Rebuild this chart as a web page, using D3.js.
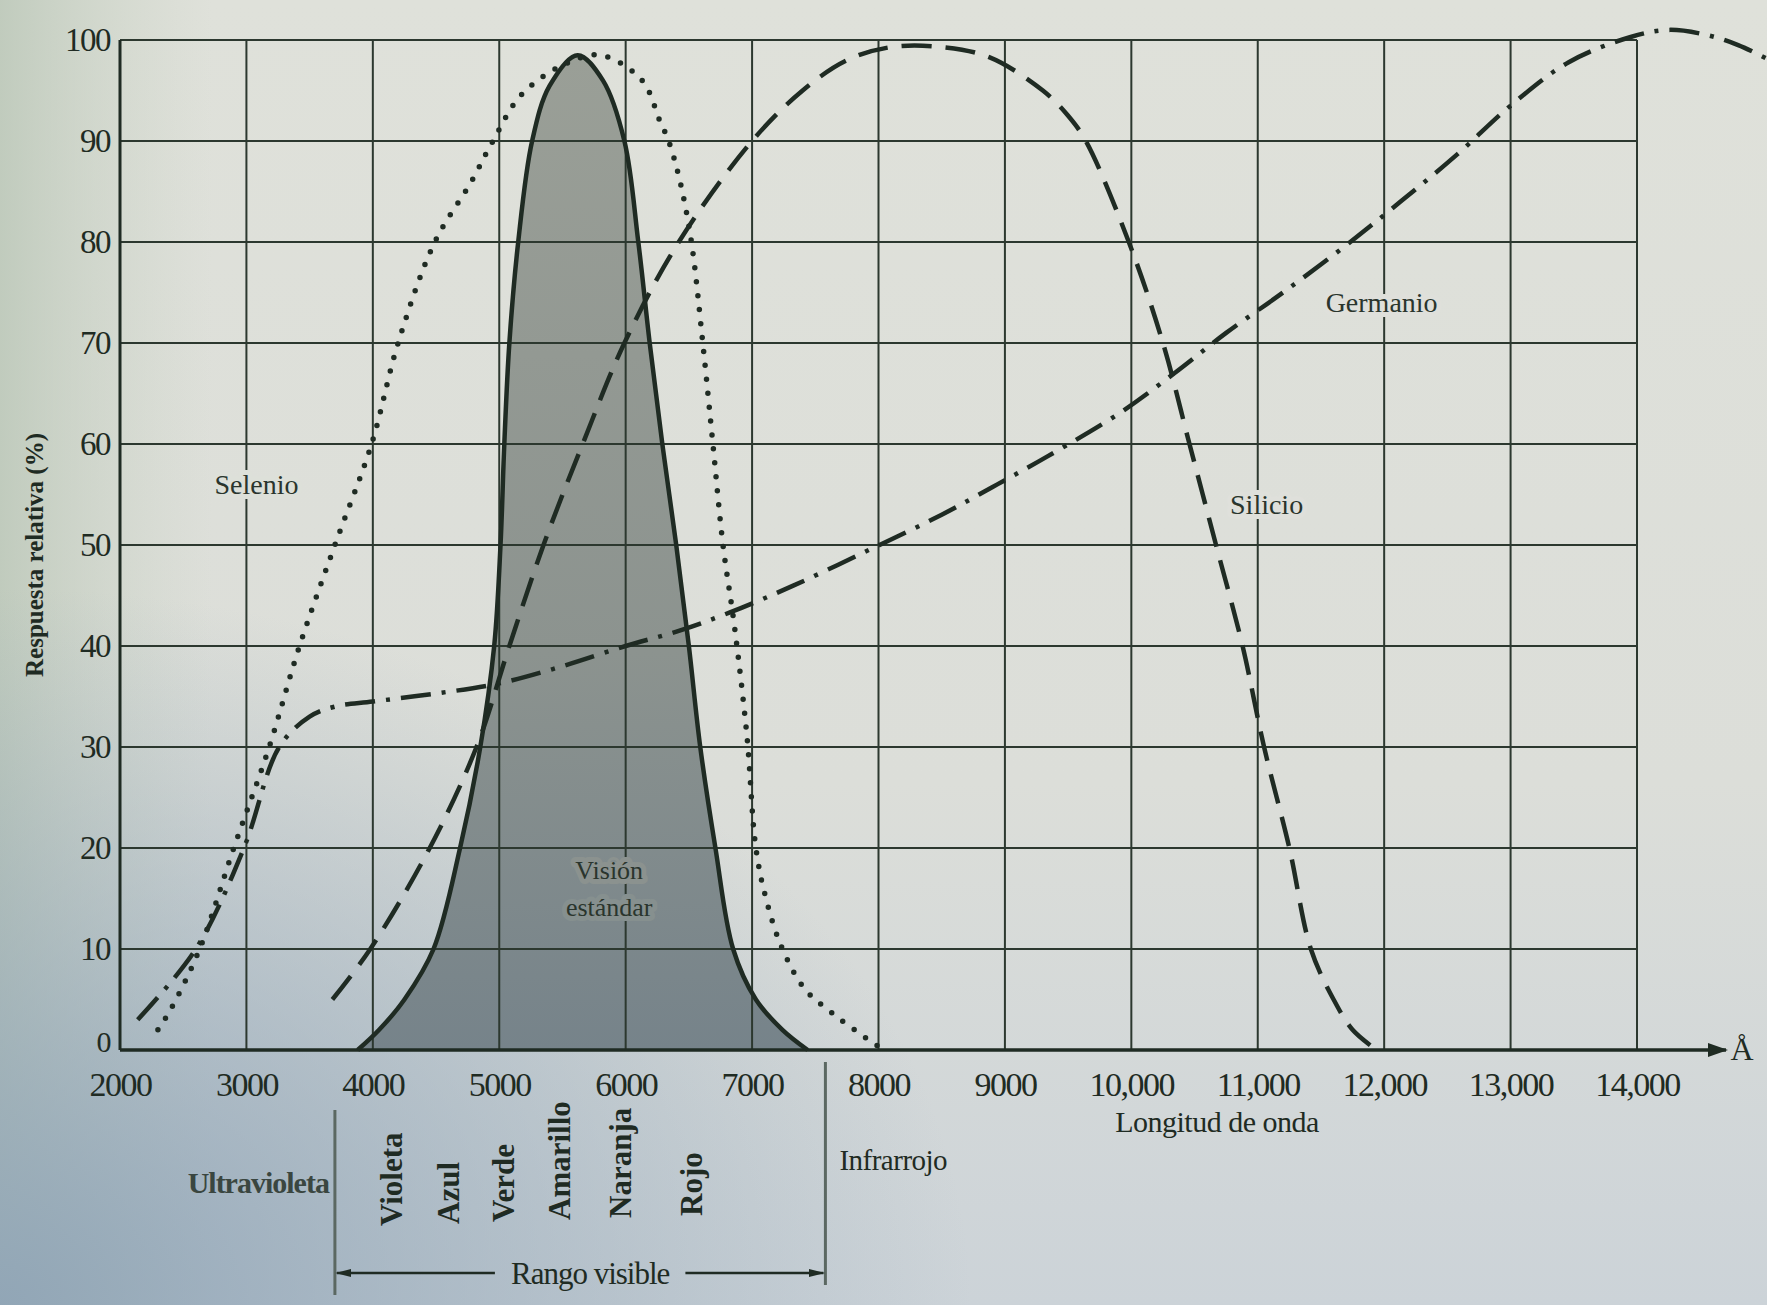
<!DOCTYPE html>
<html>
<head>
<meta charset="utf-8">
<script src="https://cdn.jsdelivr.net/npm/d3@7"></script>
<style>
  html, body { margin: 0; padding: 0; background: #d9dcd5; }
  svg { display: block; font-family: "Liberation Serif", "DejaVu Serif", serif; }
</style>
</head>
<body>
<div id="chart"></div>
<script>
// wavelength ticks (Å) and relative response ticks (%)
const xTicks = [2000, 3000, 4000, 5000, 6000, 7000, 8000, 9000, 10000, 11000, 12000, 13000, 14000];
const yTicks = [0, 10, 20, 30, 40, 50, 60, 70, 80, 90, 100];

// [wavelength Å, response %]
const vision = [[3880, 0], [4050, 2], [4250, 5], [4480, 10], [4690, 20], [4850, 30], [4960, 40],
  [5010, 50], [5040, 60], [5080, 70], [5150, 80], [5260, 90], [5400, 95.5], [5620, 98.5],
  [5820, 96], [5990, 90], [6100, 80], [6190, 70], [6290, 60], [6400, 50], [6500, 40],
  [6590, 30], [6710, 20], [6850, 10], [7030, 5], [7240, 2], [7440, 0]];

const selenio = [[2300, 2], [2400, 4], [2630, 10], [2900, 20], [3180, 30], [3420, 40], [3700, 50],
  [3990, 60], [4200, 70], [4490, 80], [4780, 86], [4950, 90], [5170, 94.5], [5500, 97.5], [5800, 98.5],
  [6130, 96], [6270, 92], [6340, 90], [6430, 86], [6520, 80], [6610, 70], [6690, 60], [6770, 50],
  [6860, 42], [6960, 31], [7030, 20], [7110, 15], [7240, 10], [7420, 6], [7650, 3.5], [7900, 1.2], [8040, 0]];

const silicio = [[3680, 5], [3980, 10], [4450, 20], [4820, 30], [5080, 40], [5350, 50], [5660, 60],
  [5990, 70], [6420, 80], [7000, 90], [7400, 95], [7750, 98], [8100, 99.3], [8500, 99.3],
  [8875, 98.3], [9300, 95], [9500, 92.5], [9640, 90], [9980, 80], [10250, 70], [10460, 60],
  [10670, 50], [10880, 40], [11050, 30], [11250, 20], [11420, 10], [11600, 5], [11750, 2], [11940, 0]];

const germanio = [[2140, 3], [2600, 10], [2980, 20], [3260, 30], [3500, 33], [3700, 34], [4000, 34.5],
  [4500, 35.3], [5000, 36.3], [5500, 38], [6000, 40], [6420, 41.5], [6820, 43.3], [7330, 46],
  [7940, 49.6], [8500, 53], [8940, 56], [9340, 58.8], [9900, 63], [10340, 67], [10750, 71],
  [11200, 75], [11670, 79.4], [12130, 84], [12580, 88.7], [13000, 93.5], [13460, 97.8],
  [13950, 100.3], [14250, 101], [14550, 100.5], [14800, 99.5], [15050, 98]];

const colorNames = ["Violeta", "Azul", "Verde", "Amarillo", "Naranja", "Rojo"];
const colorCenters = [4150, 4600, 5030, 5480, 5960, 6520];
const visibleRange = [3700, 7580];

const W = 1767, H = 1305;
const L = 120, R = 1637, T = 40, B = 1050;
const ink = "#1f2b23";

const x = d3.scaleLinear().domain([2000, 14000]).range([L, R]);
const y = d3.scaleLinear().domain([0, 100]).range([B, T]);

const svg = d3.select("#chart").append("svg")
  .attr("width", W)
  .attr("height", H);

const defs = svg.append("defs");

const paper = defs.append("linearGradient").attr("id", "paper")
  .attr("x1", 0).attr("y1", 0).attr("x2", 0).attr("y2", 1);
paper.append("stop").attr("offset", 0).attr("stop-color", "#dfe1da");
paper.append("stop").attr("offset", 0.6).attr("stop-color", "#dcded9");
paper.append("stop").attr("offset", 1).attr("stop-color", "#ccd3d8");

const side = defs.append("linearGradient").attr("id", "side")
  .attr("x1", 0).attr("y1", 0).attr("x2", 1).attr("y2", 0);
side.append("stop").attr("offset", 0).attr("stop-color", "#b9c6b6").attr("stop-opacity", 0.8);
side.append("stop").attr("offset", 0.12).attr("stop-color", "#c9d2c4").attr("stop-opacity", 0);

const corner = defs.append("radialGradient").attr("id", "corner")
  .attr("cx", 0).attr("cy", 1).attr("r", 0.55);
corner.append("stop").attr("offset", 0).attr("stop-color", "#8fa4b6").attr("stop-opacity", 0.95);
corner.append("stop").attr("offset", 1).attr("stop-color", "#8fa4b6").attr("stop-opacity", 0);

const shade = defs.append("linearGradient").attr("id", "shade")
  .attr("x1", 0).attr("y1", 0).attr("x2", 0).attr("y2", 1);
shade.append("stop").attr("offset", 0).attr("stop-color", "#9a9f97");
shade.append("stop").attr("offset", 0.6).attr("stop-color", "#8c938f");
shade.append("stop").attr("offset", 1).attr("stop-color", "#76838a");

defs.append("marker").attr("id", "arrow")
  .attr("viewBox", "0 0 10 10").attr("refX", 9).attr("refY", 5)
  .attr("markerWidth", 16).attr("markerHeight", 8).attr("markerUnits", "userSpaceOnUse")
  .attr("orient", "auto-start-reverse").attr("preserveAspectRatio", "none")
  .append("path").attr("d", "M0,0L10,5L0,10z").attr("fill", ink);

defs.append("marker").attr("id", "bigArrow")
  .attr("viewBox", "0 0 10 10").attr("refX", 9).attr("refY", 5)
  .attr("markerWidth", 20).attr("markerHeight", 14).attr("markerUnits", "userSpaceOnUse")
  .attr("orient", "auto-start-reverse").attr("preserveAspectRatio", "none")
  .append("path").attr("d", "M0,0L10,5L0,10z").attr("fill", ink);

svg.append("rect").attr("width", W).attr("height", H).attr("fill", "url(#paper)");
svg.append("rect").attr("width", W).attr("height", H).attr("fill", "url(#side)");
svg.append("rect").attr("width", W).attr("height", H).attr("fill", "url(#corner)");

const line = d3.line()
  .x(d => x(d[0]))
  .y(d => y(d[1]))
  .curve(d3.curveCatmullRom.alpha(0.5));

const area = d3.area()
  .x(d => x(d[0]))
  .y0(y(0))
  .y1(d => y(d[1]))
  .curve(d3.curveCatmullRom.alpha(0.5));

// shaded standard-vision area
svg.append("path")
  .datum(vision)
  .attr("d", area)
  .attr("fill", "url(#shade)");

// grid
const grid = svg.append("g").attr("stroke", "#2c382f").attr("stroke-width", 2);
grid.selectAll(".vx")
  .data(xTicks.slice(1))
  .join("line")
  .attr("x1", d => x(d)).attr("x2", d => x(d))
  .attr("y1", y(0)).attr("y2", y(100));
grid.selectAll(".hy")
  .data(yTicks.slice(1))
  .join("line")
  .attr("x1", x(2000)).attr("x2", x(14000))
  .attr("y1", d => y(d)).attr("y2", d => y(d));

// axes
const fmt = d => d >= 10000 ? d3.format(",")(d) : String(d);

const xAxis = svg.append("g")
  .attr("transform", `translate(0,${B})`)
  .call(d3.axisBottom(x).tickValues(xTicks).tickFormat(fmt).tickSize(0).tickPadding(22));
xAxis.select(".domain").remove();
xAxis.selectAll("text")
  .attr("font-size", 34)
  .attr("fill", ink)
  .attr("font-family", "Liberation Serif, serif")
  .attr("letter-spacing", -1.5);

const yAxis = svg.append("g")
  .attr("transform", `translate(${L},0)`)
  .call(d3.axisLeft(y).tickValues(yTicks).tickSize(0).tickPadding(10));
yAxis.select(".domain").remove();
yAxis.selectAll("text")
  .attr("font-size", 33)
  .attr("fill", ink)
  .attr("font-family", "Liberation Serif, serif")
  .attr("letter-spacing", -1.5);
// lift the "0" a little so it clears the "2000" below it
yAxis.selectAll(".tick").filter(d => d === 0).select("text")
  .attr("dy", "0.05em").attr("font-size", 30);

svg.append("line")
  .attr("x1", L).attr("x2", L).attr("y1", B).attr("y2", T)
  .attr("stroke", ink).attr("stroke-width", 3);
svg.append("line")
  .attr("x1", L).attr("x2", 1726).attr("y1", B).attr("y2", B)
  .attr("stroke", ink).attr("stroke-width", 3.5)
  .attr("marker-end", "url(#bigArrow)");
svg.append("text")
  .attr("x", 1742).attr("y", B + 10)
  .attr("text-anchor", "middle")
  .attr("font-size", 32).attr("fill", ink)
  .text("Å");

// curves
svg.append("path")
  .datum(vision)
  .attr("d", line)
  .attr("fill", "none").attr("stroke", ink).attr("stroke-width", 4.5);

svg.append("path")
  .datum(selenio)
  .attr("d", line)
  .attr("fill", "none").attr("stroke", ink).attr("stroke-width", 5.5)
  .attr("stroke-linecap", "round").attr("stroke-dasharray", "0 14");

svg.append("path")
  .datum(silicio)
  .attr("d", line)
  .attr("fill", "none").attr("stroke", ink).attr("stroke-width", 4.5)
  .attr("stroke-dasharray", "30 14");

svg.append("path")
  .datum(germanio)
  .attr("d", line)
  .attr("fill", "none").attr("stroke", ink).attr("stroke-width", 4.5)
  .attr("stroke-dasharray", "30 11 4 11");

// curve labels
const labels = svg.append("g")
  .attr("font-size", 28).attr("fill", "#2a352d")
  .attr("text-anchor", "middle").attr("dominant-baseline", "central")
  .attr("paint-order", "stroke").attr("stroke-width", 10).attr("stroke-linejoin", "round");

labels.append("text").attr("x", x(3080)).attr("y", y(56)).attr("stroke", "#dde0d9").text("Selenio");
labels.append("text").attr("x", x(11980)).attr("y", y(74)).attr("stroke", "#dfe0db").text("Germanio");
labels.append("text").attr("x", x(11070)).attr("y", y(54)).attr("stroke", "#dfe0db").text("Silicio");
labels.append("text").attr("x", x(5870)).attr("y", y(17.8)).attr("stroke", "#8b928f").attr("font-size", 26).text("Visión");
labels.append("text").attr("x", x(5870)).attr("y", y(14.1)).attr("stroke", "#86908f").attr("font-size", 26).text("estándar");

// axis titles
svg.append("text")
  .attr("transform", `translate(34,${(T + B) / 2 + 10}) rotate(-90)`)
  .attr("text-anchor", "middle").attr("dominant-baseline", "central")
  .attr("font-size", 25).attr("font-weight", "bold").attr("fill", ink)
  .text("Respuesta relativa (%)");

svg.append("text")
  .attr("x", 1217).attr("y", 1132)
  .attr("text-anchor", "middle")
  .attr("font-size", 30).attr("fill", ink).attr("letter-spacing", -0.5)
  .text("Longitud de onda");

// spectrum band labels under the axis
const xa = x(visibleRange[0]), xb = x(visibleRange[1]);
svg.append("line").attr("x1", xa).attr("x2", xa).attr("y1", 1110).attr("y2", 1295)
  .attr("stroke", "#5b6862").attr("stroke-width", 3);
svg.append("line").attr("x1", xb).attr("x2", xb).attr("y1", 1062).attr("y2", 1285)
  .attr("stroke", "#5b6862").attr("stroke-width", 3);

svg.append("text")
  .attr("x", xa - 6).attr("y", 1193)
  .attr("text-anchor", "end")
  .attr("font-size", 30).attr("font-weight", "bold").attr("fill", "#3a4640")
  .attr("letter-spacing", -1)
  .text("Ultravioleta");

svg.append("text")
  .attr("x", xb + 14).attr("y", 1170)
  .attr("font-size", 29).attr("fill", ink)
  .attr("letter-spacing", -0.5)
  .text("Infrarrojo");

svg.append("g")
  .selectAll("text")
  .data(colorNames)
  .join("text")
  .attr("transform", (d, i) => `translate(${x(colorCenters[i])},${1226 - i * 2}) rotate(-90)`)
  .attr("dominant-baseline", "central")
  .attr("font-size", 31).attr("font-weight", "bold").attr("fill", ink)
  .text(d => d);

const ry = 1273;
svg.append("line").attr("x1", xa + 2).attr("x2", xa + 160).attr("y1", ry).attr("y2", ry)
  .attr("stroke", ink).attr("stroke-width", 2.5).attr("marker-start", "url(#arrow)");
svg.append("line").attr("x1", xb - 140).attr("x2", xb - 2).attr("y1", ry).attr("y2", ry)
  .attr("stroke", ink).attr("stroke-width", 2.5).attr("marker-end", "url(#arrow)");
svg.append("text")
  .attr("x", (xa + 160 + xb - 140) / 2).attr("y", ry)
  .attr("text-anchor", "middle").attr("dominant-baseline", "central")
  .attr("font-size", 31).attr("fill", ink).attr("letter-spacing", -1)
  .text("Rango visible");
</script>
</body>
</html>
